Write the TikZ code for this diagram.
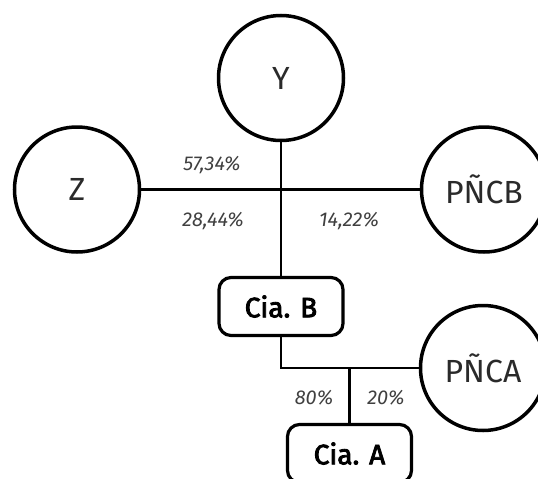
\documentclass[tikz,border=0pt]{standalone}
\usepackage{fontspec}
\setmainfont{Fira Sans}
\definecolor{txt}{HTML}{2A2A2A}
\definecolor{lbl}{HTML}{404040}
\begin{document}
\begin{tikzpicture}[x=1pt,y=-1pt,
  party/.style={circle,draw=black,line width=3.5pt,minimum size=125pt,inner sep=0pt,
    text=txt,font=\fontsize{32}{32}\selectfont},
  company/.style={rectangle,rounded corners=12pt,draw=black,line width=3.2pt,
    minimum width=124pt,minimum height=58pt,inner sep=0pt,text=black,
    font=\fontsize{28}{28}\selectfont\addfontfeatures{FakeBold=3}},
  link/.style={line width=2.8pt,draw=black},
  pct/.style={text=lbl,inner sep=0pt,font=\fontsize{20}{20}\selectfont\itshape}]
\useasboundingbox (0,0) rectangle (538,479);
\node[party] (Y) at (281,78) {Y};
\node[party] (Z) at (77,189.5) {Z};
\node[party] (PNCB) at (484,189.5) {PÑCB};
\node[company] (CiaB) at (281,306.5) {Cia. B};
\node[party] (PNCA) at (483,368) {PÑCA};
\node[company] (CiaA) at (349.5,453.5) {Cia. A};
\coordinate (j2) at (CiaA.north |- PNCA.west);
\draw[link] (Y.south) -- (CiaB.north);
\draw[link] (Z.east) -- (PNCB.west);
\draw[link] (CiaB.south) |- (PNCA.west);
\draw[link] (j2) -- (CiaA.north);
\node[pct] (l1) at (212,165) {57,34\%};
\node[pct] (l2) at (213,221) {28,44\%};
\node[pct] (l3) at (349,221) {14,22\%};
\node[pct] (l4) at (314,398) {80\%};
\node[pct] (l5) at (386,398) {20\%};
\end{tikzpicture}
\end{document}
